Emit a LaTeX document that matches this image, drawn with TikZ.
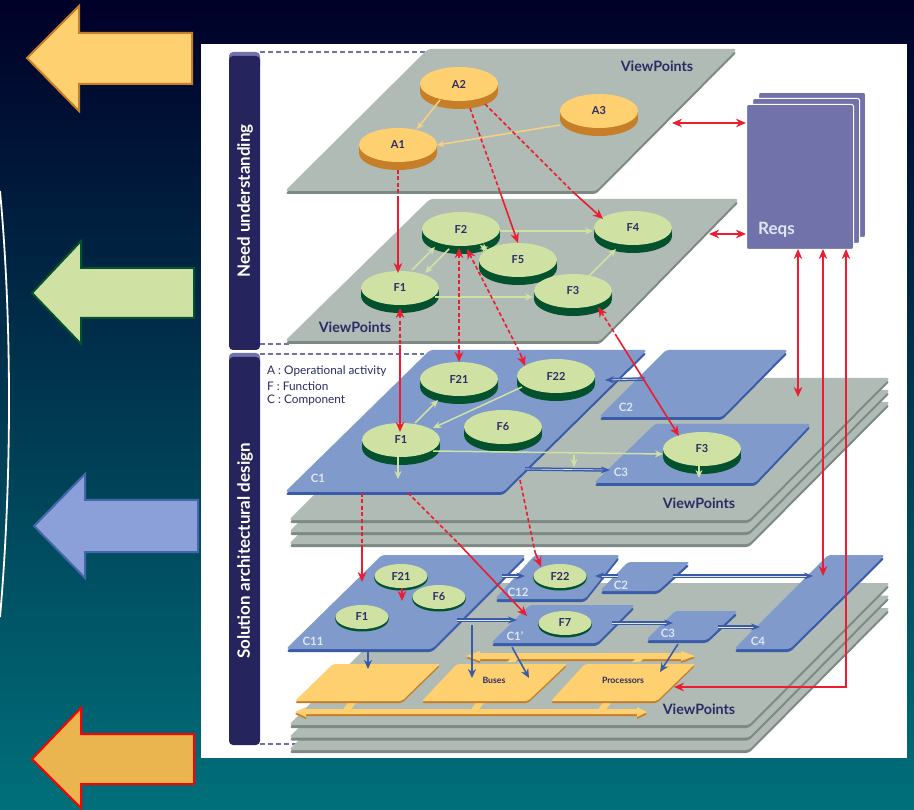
\documentclass[tikz,border=0pt]{standalone}
\usepackage{fontspec}
\setmainfont{Lato}
\usetikzlibrary{arrows.meta,shapes.geometric}
\definecolor{bg_top}{RGB}{0,0,40}
\definecolor{bg_mid}{RGB}{0,60,88}
\definecolor{bg_low}{RGB}{0,112,122}
\definecolor{plane_gray}{RGB}{175,187,180}
\definecolor{edge_gray}{RGB}{125,138,132}
\definecolor{comp_blue}{RGB}{127,154,203}
\definecolor{edge_blue}{RGB}{58,92,168}
\definecolor{node_yell}{RGB}{255,208,112}
\definecolor{edge_yell}{RGB}{198,126,40}
\definecolor{node_green}{RGB}{207,226,164}
\definecolor{edge_green}{RGB}{4,81,46}
\definecolor{line_red}{RGB}{237,28,46}
\definecolor{line_yell}{RGB}{248,208,132}
\definecolor{reqs_blue}{RGB}{114,114,170}
\definecolor{bar_dark}{RGB}{37,36,92}
\definecolor{text_dark}{RGB}{43,43,102}
\definecolor{text_pale}{RGB}{222,230,245}
\definecolor{arrow_blue}{RGB}{139,160,216}
\definecolor{arrow_edge}{RGB}{68,102,170}
\definecolor{arrow_yell}{RGB}{234,181,78}
\tikzset{rim/.style 2 args={
    preaction={fill=#1,transform canvas={yshift=-#2*0.25pt}},
    preaction={fill=#1,transform canvas={yshift=-#2*0.5pt}},
    preaction={fill=#1,transform canvas={yshift=-#2*0.75pt}},
    preaction={fill=#1,transform canvas={yshift=-#2*1pt}}}}
\begin{document}
\begin{tikzpicture}[->,>={Stealth[length=10pt,width=8.5pt]},x=1pt,y=-1pt]
    \tikzstyle{disc}=[ellipse, inner sep=0pt, outer sep=0pt, minimum width=78pt, minimum height=34pt, text=text_dark, font=\fontsize{11}{13}\selectfont\bfseries]
    \tikzstyle{am}=[style=disc,fill=node_yell,rim={edge_yell}{8}]
    \tikzstyle{fn}=[style=disc,fill=node_green,rim={edge_green}{8}]
    \tikzstyle{fs}=[style=disc,fill=node_green,minimum width=53pt,minimum height=24pt,rim={edge_green}{2.5}]
    \tikzstyle{plane}=[fill=plane_gray,rounded corners=3pt,preaction={fill=edge_gray,transform canvas={yshift=-3pt}}]
    \tikzstyle{comp}=[fill=comp_blue,rounded corners=3pt,preaction={fill=edge_blue,transform canvas={yshift=-3pt}}]
    \tikzstyle{plate}=[fill=node_yell,rounded corners=2pt,preaction={fill=edge_yell,transform canvas={yshift=-2pt}}]
    \tikzstyle{vp}=[text=text_dark,font=\fontsize{14.3}{16}\selectfont\bfseries]
    \tikzstyle{cl}=[text=text_pale,font=\fontsize{11.5}{13}\selectfont\bfseries]
    \tikzstyle{pl}=[text=text_dark,font=\fontsize{8.7}{10}\selectfont\bfseries]
    \tikzstyle{bartext}=[text=white,rotate=90,font=\fontsize{17}{19}\selectfont\bfseries]
    \tikzstyle{legend}=[text=text_dark,anchor=west,inner sep=0pt,font=\fontsize{11.8}{13}\selectfont]
    \tikzstyle{page}=[rectangle,fill=reqs_blue,draw=white,line width=1pt,rounded corners=2pt,minimum width=107pt,minimum height=145pt,inner sep=0pt]
    \tikzstyle{side}=[line width=1.3pt,draw=reqs_blue,-,dash pattern=on 5pt off 3pt]
    \tikzstyle{redl}=[draw=line_red,line width=1.6pt]
    \tikzstyle{redd}=[redl,dash pattern=on 4pt off 2.5pt]
    \tikzstyle{yl}=[draw=line_yell,line width=1.5pt,>={Stealth[length=7pt,width=6.5pt]}]
    \tikzstyle{gl}=[draw=node_green,line width=1.5pt,>={Stealth[length=8pt,width=7pt]}]
    \tikzstyle{bl}=[draw=edge_blue,line width=1.6pt,>={Stealth[length=9pt,width=8pt]}]
    \tikzstyle{dbl}=[draw=edge_blue,line width=1.5pt,double=text_pale,double distance=0.6pt,>={Stealth[length=9pt,width=7pt]}]
    \useasboundingbox (0,0) rectangle (914,810);

    % backdrop
    \shade[top color=bg_top,middle color=bg_mid,bottom color=bg_low] (0,0) rectangle (914,810);
    \draw[-,white,line width=1.8pt] (0,191) .. controls (12,320) and (12,480) .. (0,617);
    \filldraw[fill=node_yell,draw=edge_yell,line width=2pt] (27,58) -- (79,6) -- (79,33) -- (192,33) -- (192,84) -- (79,84) -- (79,111) -- cycle;
    \filldraw[fill=node_green,draw=edge_green,line width=2pt] (32,293) -- (81,241) -- (81,268) -- (194,268) -- (194,318) -- (81,318) -- (81,344) -- cycle;
    \filldraw[fill=arrow_blue,draw=arrow_edge,line width=2pt] (34,526) -- (85,474) -- (85,500) -- (198,500) -- (198,552) -- (85,552) -- (85,578) -- cycle;
    \filldraw[fill=arrow_yell,draw=red,line width=2pt] (32,759) -- (81,708) -- (81,734) -- (194,734) -- (194,784) -- (81,784) -- (81,808) -- cycle;
    \fill[white] (201,44) rectangle (907,758);

    % side bars
    \fill[reqs_blue,rounded corners=4pt] (229,52) rectangle (260,70);
    \fill[bar_dark,rounded corners=4pt] (229,56) rectangle (260,350);
    \fill[reqs_blue,rounded corners=4pt] (229,353) rectangle (260,370);
    \fill[bar_dark,rounded corners=4pt] (229,357) rectangle (260,745);
    \node[bartext] (need) at (245,201) {Need understanding};
    \node[bartext] (sol) at (245,551) {Solution architectural design};
    \draw[side] (260,52) -- (428,52);
    \draw[side] (260,344) -- (290,344);
    \draw[side] (260,354) -- (424,354);
    \draw[side] (260,744) -- (296,744);

    % viewpoint planes
    \path[plane] (428,49) -- (737,49) -- (596,191) -- (285,191) -- cycle;
    \path[plane] (430,199) -- (739,199) -- (600,341) -- (285,341) -- cycle;
    \foreach \d in {24,12,0}
      \path[plane] (430,378+\d) -- (890,378+\d) -- (749,520+\d) -- (289,520+\d) -- cycle;
    \path[comp] (430,350) -- (647,350) -- (503,492) -- (285,492) -- cycle;
    \path[comp] (666,350) -- (788,350) -- (722,417) -- (599,417) -- cycle;
    \path[comp] (655,424) -- (811,424) -- (755,483) -- (594,483) -- cycle;
    \foreach \d in {25,12.5,0}
      \path[plane] (430,583+\d) -- (890,583+\d) -- (749,725+\d) -- (289,725+\d) -- cycle;
    \path[comp] (382,555) -- (526,555) -- (432,649) -- (286,649) -- cycle;
    \path[comp] (535,555) -- (620,555) -- (585,599) -- (495,599) -- cycle;
    \path[comp] (530,605) -- (635,605) -- (597,643) -- (491,643) -- cycle;
    \path[comp] (628,562) -- (690,562) -- (658,591) -- (600,591) -- cycle;
    \path[comp] (675,611) -- (738,611) -- (707,640) -- (646,640) -- cycle;
    \path[comp] (828,555) -- (885,555) -- (790,649) -- (734,649) -- cycle;

    % platforms and buses
    \path[plate,rounded corners=0pt] (466,656) -- (480,651) -- (480,653) -- (681,653) -- (681,651) -- (695,656) -- (681,661) -- (681,659) -- (480,659) -- (480,661) -- cycle;
    \path[plate,rounded corners=0pt] (295,712) -- (306,707) -- (306,709) -- (637,709) -- (637,707) -- (647,712) -- (637,717) -- (637,714) -- (306,714) -- (306,717) -- cycle;
    \foreach \x in {507,632}
      \fill[node_yell] (\x,662) -- (\x+8,662) -- (\x+14,656) -- (\x+6,656) -- cycle;
    \foreach \x in {342,470,597}
      \fill[node_yell] (\x,711) -- (\x+8,711) -- (\x+16,700) -- (\x+8,700) -- cycle;
    \path[plate] (333,664) -- (440,664) -- (402,701) -- (295,701) -- cycle;
    \path[plate] (457,664) -- (567,664) -- (528,701) -- (422,701) -- cycle;
    \path[plate] (585,664) -- (695,664) -- (657,701) -- (551,701) -- cycle;

    % requirements
    \node[page] (reqsc) at (812,165) {};
    \node[page] (reqsb) at (806,171) {};
    \node[page] (reqsa) at (800,177) {};
    \node[anchor=west,text=text_pale,inner sep=0pt,font=\fontsize{17}{19}\selectfont\bfseries] (reqst) at (758,230) {Reqs};

    % functions
    \node[am] (a2) at (459,84) {A2};
    \node[am] (a1) at (398,145) {A1};
    \node[am] (a3) at (599,111) {A3};
    \node[fn] (f2) at (461,229) {F2};
    \node[fn] (f5) at (518,260) {F5};
    \node[fn] (f1) at (400,288) {F1};
    \node[fn] (f3) at (573,291) {F3};
    \node[fn] (f4) at (633,228) {F4};
    \node[fn] (f21) at (459,379) {F21};
    \node[fn] (f22) at (556,376) {F22};
    \node[fn] (f1b) at (401,440) {F1};
    \node[fn] (f6) at (503,427) {F6};
    \node[fn] (f3b) at (702,449) {F3};
    \node[fs] (f21c) at (401,576) {F21};
    \node[fs] (f6c) at (439,597) {F6};
    \node[fs] (f1c) at (362,617) {F1};
    \node[fs] (f22c) at (560,576) {F22};
    \node[fs] (f7c) at (565,623) {F7};

    % texts on the planes
    \node[vp] (vpa) at (657,66) {ViewPoints};
    \node[vp] (vpb) at (355,327) {ViewPoints};
    \node[vp] (vpc) at (699,503) {ViewPoints};
    \node[vp] (vpd) at (699,709) {ViewPoints};
    \node[legend] (lega) at (267,371) {A : Operational activity};
    \node[legend] (legb) at (267,386) {F : Function};
    \node[legend] (legc) at (267,400) {C : Component};
    \node[cl] (c1) at (318,478) {C1};
    \node[cl] (c2) at (626,407) {C2};
    \node[cl] (c3) at (621,472) {C3};
    \node[cl] (c11) at (313,641) {C11};
    \node[cl] (c12) at (518,592) {C12};
    \node[cl] (c1p) at (515,636) {C1'};
    \node[cl] (c2c) at (621,585) {C2};
    \node[cl] (c3c) at (668,633) {C3};
    \node[cl] (c4) at (758,641) {C4};
    \node[pl] (buses) at (494,680) {Buses};
    \node[pl] (procs) at (623,680) {Processors};

    % free ends
    \coordinate (ra) at (398,199);
    \coordinate (rb) at (500,192);
    \coordinate (rc) at (573,192);
    \coordinate (rd) at (400,345);
    \coordinate (re) at (459,350);
    \coordinate (rf) at (520,353);
    \coordinate (rg) at (617,337);
    \coordinate (rh) at (362,548);
    \coordinate (ri) at (458,543);
    \coordinate (rj) at (535,552);
    \coordinate (rk) at (362,582);
    \coordinate (pa) at (672,123);
    \coordinate (pb) at (709,234);
    \coordinate (qa) at (798,249);
    \coordinate (qb) at (823,249);
    \coordinate (qc) at (846,249);
    \coordinate (qd) at (798,397);
    \coordinate (qe) at (823,576);
    \coordinate (qf) at (846,687);
    \coordinate (qg) at (674,687);
    \coordinate (ca) at (362,493);
    \coordinate (cb) at (408,493);
    \coordinate (cc) at (520,480);
    \coordinate (cd) at (527,616);
    \coordinate (ce) at (574,455);
    \coordinate (cf) at (574,467);
    \coordinate (da) at (645,379); \coordinate (db) at (605,380);
    \coordinate (dc) at (525,469); \coordinate (dd) at (610,470);
    \coordinate (de) at (502,576); \coordinate (df) at (525,576);
    \coordinate (dg) at (457,620); \coordinate (dh) at (517,620);
    \coordinate (di) at (618,576); \coordinate (dj) at (595,576);
    \coordinate (dk) at (673,576); \coordinate (dl) at (813,576);
    \coordinate (dm) at (612,623); \coordinate (dn) at (673,623);
    \coordinate (do) at (718,627); \coordinate (dp) at (760,627);
    \coordinate (ba) at (368,652); \coordinate (bb) at (368,669);
    \coordinate (bc) at (472,625); \coordinate (bd) at (472,678);
    \coordinate (be) at (512,647); \coordinate (bf) at (529,678);
    \coordinate (bg) at (678,644); \coordinate (bh) at (660,672);

    % inside the planes
    \path
     ([shift={(-19,16)}]a2.center) edge[yl] ([shift={(19,-16)}]a1.center)
     ([shift={(-39,14)}]a3.center) edge[yl] (a1.east)
     ([shift={(39,2)}]f2.center) edge[gl] ([shift={(-40,3)}]f4.center)
     ([shift={(15,-14)}]f3.center) edge[gl] ([shift={(-17,21)}]f4.center)
     ([shift={(35,9)}]f1.center) edge[gl] ([shift={(-40,6)}]f3.center)
     ([shift={(12,-18)}]f1.center) edge[gl] ([shift={(-26,18)}]f2.center)
     ([shift={(-12,20)}]f2.center) edge[gl] ([shift={(25,-15)}]f1.center)
     ([shift={(19,16)}]f2.center) edge[gl,<->] ([shift={(-30,-9)}]f5.center)
     ([shift={(14,-17)}]f1b.center) edge[gl] ([shift={(-21,21)}]f21.center)
     ([shift={(-34,11)}]f22.center) edge[gl] ([shift={(32,-12)}]f1b.center)
     ([shift={(-3,17)}]f1b.center) edge[gl] ([shift={(-3,39)}]f1b.center)
     ([shift={(32,11)}]f1b.center) edge[gl] ([shift={(-39,5)}]f3b.center)
     (ce) edge[gl] (cf)
     ([shift={(-3,16)}]f3b.center) edge[gl] ([shift={(-3,29)}]f3b.center)
     ;

    % links between components
    \path
     (da) edge[dbl] (db)
     (dc) edge[dbl] (dd)
     (de) edge[dbl] (df)
     (dg) edge[dbl] (dh)
     (di) edge[dbl] (dj)
     (dk) edge[dbl] (dl)
     (dm) edge[dbl] (dn)
     (do) edge[dbl] (dp)
     (ba) edge[bl] (bb)
     (bc) edge[bl] (bd)
     (be) edge[bl] (bf)
     (bg) edge[bl] (bh)
     ;

    % traceability
    \path
     ([shift={(0,25)}]a1.center) edge[redd,-] (ra)
     (ra) edge[redl] ([shift={(-2,-15)}]f1.center)
     ([shift={(11,24)}]a2.center) edge[redd,-] (rb)
     (rb) edge[redl] (f5.north)
     ([shift={(26,20)}]a2.center) edge[redd,-] (rc)
     (rc) edge[redl] ([shift={(-30,-9)}]f4.center)
     ([shift={(0,20)}]f1.center) edge[redd,<-] (rd)
     (rd) edge[redl] ([shift={(-1,-8)}]f1b.center)
     ([shift={(-2,19)}]f2.center) edge[redd,<-] (re)
     (re) edge[redl] (f21.north)
     ([shift={(6,20)}]f2.center) edge[redd,<-] (rf)
     (rf) edge[redl] ([shift={(-31,-10)}]f22.center)
     ([shift={(25,16)}]f3.center) edge[redd,<-] (rg)
     (rg) edge[redl] ([shift={(-23,-13)}]f3b.center)
     (pa) edge[redl,<->] (reqsa.west|-pa)
     (pb) edge[redl,<->] (reqsa.west|-pb)
     (qa) edge[redl,<->] (qd)
     (qb) edge[redl,<->] (qe)
     (ca) edge[redd,-] (rh)
     (rh) edge[redl] (rk)
     (cb) edge[redd,-] (ri)
     (ri) edge[redl] (cd)
     (cc) edge[redd,-] (rj)
     (rj) edge[redl] ([shift={(-19,-9)}]f22c.center)
     ([shift={(1,12)}]f21c.center) edge[redl] ([shift={(1,25)}]f21c.center)
     ;
    \draw[redl,<->] (qc) -- (qf) -- (qg);
\end{tikzpicture}
\end{document}
